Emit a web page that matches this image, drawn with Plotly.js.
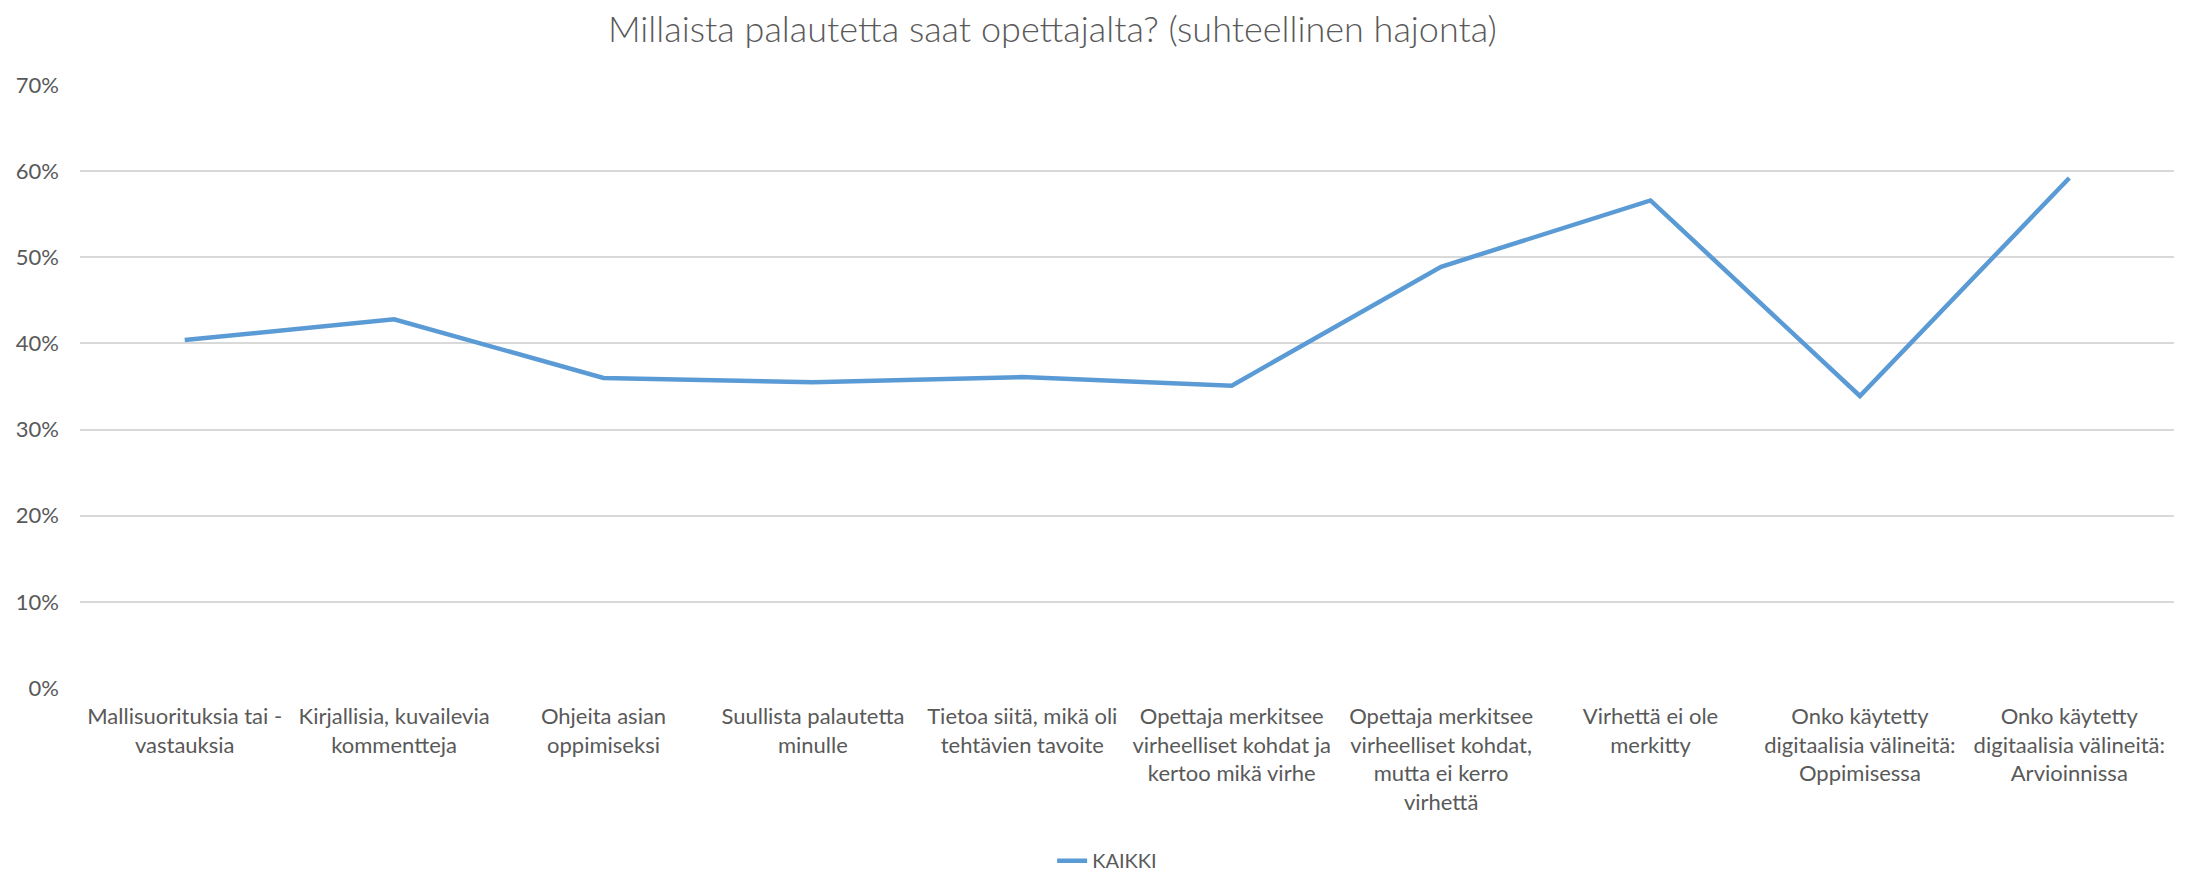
<!DOCTYPE html>
<html>
<head>
<meta charset="utf-8">
<script src="https://cdn.plot.ly/plotly-3.0.1.min.js"></script>
<style>html,body{margin:0;padding:0;background:#fff;}#chart{width:2188px;height:872px;}</style>
</head>
<body>
<div id="chart"></div>
<script>
const categories = [
  "Mallisuorituksia tai -<br>vastauksia",
  "Kirjallisia, kuvailevia<br>kommentteja",
  "Ohjeita asian<br>oppimiseksi",
  "Suullista palautetta<br>minulle",
  "Tietoa siitä, mikä oli<br>tehtävien tavoite",
  "Opettaja merkitsee<br>virheelliset kohdat ja<br>kertoo mikä virhe",
  "Opettaja merkitsee<br>virheelliset kohdat,<br>mutta ei kerro<br>virhettä",
  "Virhettä ei ole<br>merkitty",
  "Onko käytetty<br>digitaalisia välineitä:<br>Oppimisessa",
  "Onko käytetty<br>digitaalisia välineitä:<br>Arvioinnissa"
];
const kaikki = [0.404, 0.428, 0.360, 0.355, 0.361, 0.351, 0.489, 0.566, 0.339, 0.592];
const seriesName = "KAIKKI";
const yTicks = [0, 0.1, 0.2, 0.3, 0.4, 0.5, 0.6, 0.7];

const textColor = "#595959";
const fontFam = "Lato, 'Open Sans', sans-serif";

Plotly.newPlot("chart", [{
  x: categories,
  y: kaikki,
  type: "scatter",
  mode: "lines",
  name: seriesName,
  line: {color: "#5B9BD5", width: 4.5}
}], {
  width: 2188, height: 872,
  paper_bgcolor: "#fff", plot_bgcolor: "#fff",
  margin: {l: 80, r: 14, t: 85, b: 184},
  font: {family: fontFam, color: textColor},
  title: {
    text: "Millaista palautetta saat opettajalta? (suhteellinen hajonta)",
    font: {family: fontFam, size: 36, color: textColor, weight: 300},
    xref: "container", x: 0.481, xanchor: "center", yref: "container", y: 0.966, yanchor: "middle"
  },
  showlegend: true,
  legend: {
    orientation: "h", xref: "container", x: 0.506, xanchor: "center",
    yref: "container", y: 0.013, yanchor: "middle",
    font: {family: fontFam, size: 20, color: textColor}
  },
  xaxis: {
    type: "category",
    range: [-0.5, 9.5],
    showgrid: false, zeroline: false, showline: false,
    ticks: "", ticklabelstandoff: 13,
    tickfont: {family: fontFam, size: 22, color: textColor},
    automargin: false
  },
  yaxis: {
    range: [0, 0.7],
    tickvals: yTicks,
    tickformat: ".0%",
    showgrid: true, gridcolor: "#d9d9d9", gridwidth: 1.5,
    zeroline: false, showline: false, ticks: "",
    ticklabelstandoff: 20,
    tickfont: {family: fontFam, size: 22, color: textColor},
    automargin: false
  }
}, {displayModeBar: false});
</script>
</body>
</html>
